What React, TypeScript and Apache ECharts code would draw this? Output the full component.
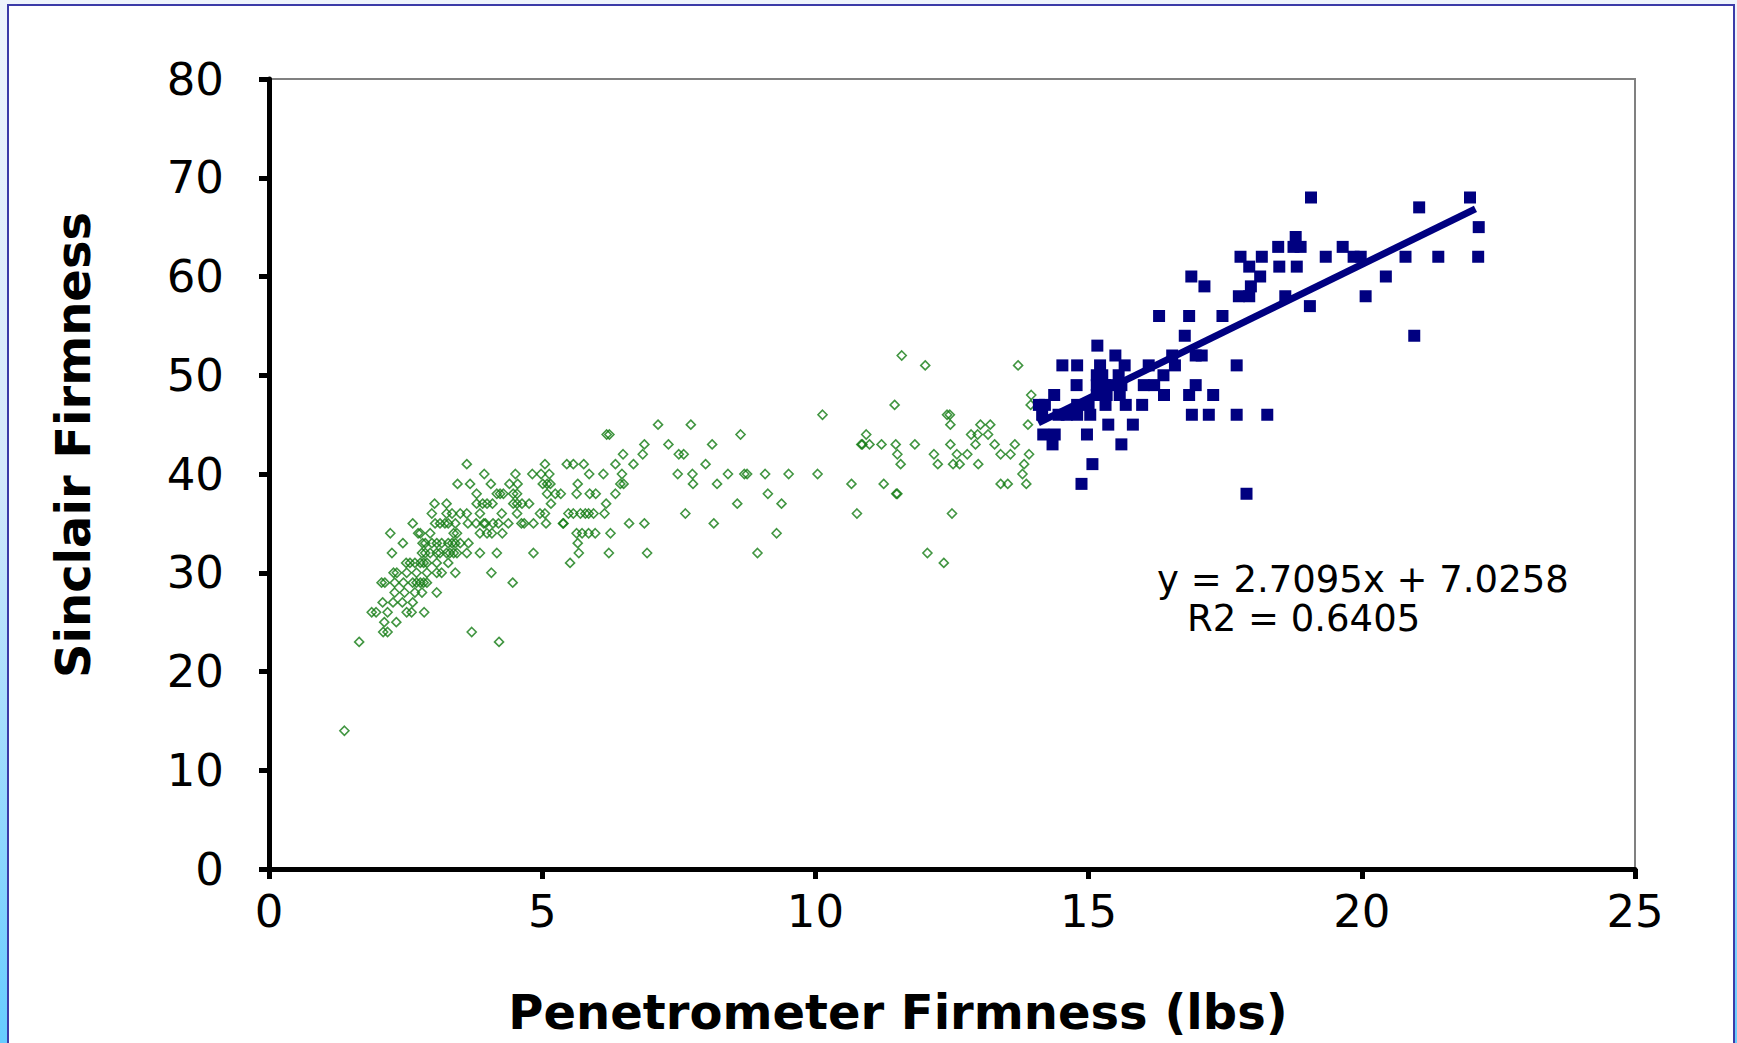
import React, { useEffect, useRef } from "react";
import * as echarts from "echarts";

// ---- Data ----
// Green (hollow diamonds): rows of [Sinclair value, penetrometer values...]
const greenRows: [number, number[]][] = [
  [52, [11.58]],
  [51, [12.01, 13.71]],
  [48, [13.95]],
  [47, [11.45, 13.94]],
  [46, [10.13, 12.41, 12.46]],
  [45, [7.12, 7.72, 12.47, 13.02, 13.2, 13.89]],
  [44, [6.18, 6.23, 8.63, 10.93, 12.85, 12.97, 13.16]],
  [43, [6.87, 7.31, 8.11, 10.84, 10.86, 10.99, 11.21, 11.47, 11.82, 12.47, 12.93, 13.28, 13.65]],
  [42, [6.48, 6.84, 7.5, 7.59, 11.5, 12.17, 12.59, 12.78, 13.39, 13.57, 13.91]],
  [41, [3.62, 5.05, 5.45, 5.57, 5.76, 6.34, 6.67, 7.99, 11.56, 12.24, 12.52, 12.64, 12.98, 13.82]],
  [40, [3.94, 4.51, 4.82, 4.98, 5.13, 5.86, 6.12, 6.46, 7.48, 7.75, 8.4, 8.7, 8.75, 9.08, 9.51, 10.04, 13.79]],
  [39, [3.45, 3.68, 4.06, 4.4, 4.55, 5.01, 5.09, 5.15, 5.65, 6.43, 6.49, 7.76, 8.2, 10.66, 11.25, 13.39, 13.52, 13.86]],
  [38, [3.8, 4.17, 4.23, 4.29, 4.47, 4.54, 5.09, 5.24, 5.34, 5.63, 5.87, 5.98, 6.34, 9.13, 11.48, 11.5]],
  [37, [3.03, 3.25, 3.8, 3.91, 3.99, 4.09, 4.47, 4.54, 4.63, 4.76, 5.16, 6.17, 8.57, 9.38]],
  [36, [2.98, 3.25, 3.35, 3.5, 3.62, 3.86, 4.26, 4.54, 4.96, 5.05, 5.48, 5.57, 5.7, 5.79, 5.85, 5.94, 6.14, 7.62, 10.76, 12.5]],
  [35, [2.63, 3.04, 3.13, 3.22, 3.28, 3.41, 3.64, 3.79, 3.93, 3.96, 4.1, 4.2, 4.38, 4.62, 4.67, 4.84, 5.07, 5.38, 5.39, 6.59, 6.87, 8.14]],
  [34, [2.22, 2.73, 2.77, 2.95, 3.38, 3.44, 3.86, 3.99, 4.08, 4.27, 5.63, 5.73, 5.85, 5.97, 6.25, 9.29]],
  [33, [2.45, 2.81, 2.86, 2.98, 3.07, 3.16, 3.28, 3.35, 3.41, 3.5, 3.65, 5.65]],
  [32, [2.25, 2.8, 2.86, 2.95, 3.07, 3.13, 3.25, 3.31, 3.38, 3.44, 3.62, 3.86, 4.17, 4.84, 5.67, 6.22, 6.92, 8.94, 12.05]],
  [31, [2.51, 2.58, 2.67, 2.77, 2.83, 2.89, 3.07, 3.28, 5.51, 12.35]],
  [30, [2.28, 2.34, 2.52, 2.7, 2.89, 3.07, 3.16, 3.41, 4.07]],
  [29, [2.06, 2.12, 2.3, 2.46, 2.63, 2.7, 2.77, 2.83, 2.89, 4.46]],
  [28, [2.3, 2.48, 2.67, 2.8, 3.07]],
  [27, [2.08, 2.27, 2.44, 2.63]],
  [26, [1.88, 1.96, 2.17, 2.52, 2.61, 2.84]],
  [25, [2.11, 2.33]],
  [24, [2.09, 2.17, 3.71]],
  [23, [1.65, 4.21]],
  [14, [1.38]],
];

// Blue (filled squares): [penetrometer, sinclair]
const bluePoints: [number, number][] = [
  [19.07, 68], [21.98, 68], [21.05, 67], [22.14, 65], [18.79, 64],
  [18.47, 63], [18.75, 63], [18.88, 63], [19.65, 63],
  [17.78, 62], [18.17, 62], [19.34, 62], [19.85, 62], [19.98, 62], [20.8, 62], [21.4, 62], [22.13, 62],
  [17.94, 61], [18.49, 61], [18.81, 61],
  [16.88, 60], [18.14, 60], [20.44, 60],
  [17.12, 59], [17.97, 59],
  [17.75, 58], [17.94, 58], [18.6, 58], [20.07, 58],
  [19.05, 57],
  [16.29, 56], [16.84, 56], [17.45, 56],
  [16.76, 54], [20.96, 54],
  [15.16, 53],
  [15.49, 52], [16.53, 52], [16.96, 52], [17.07, 52],
  [14.52, 51], [14.79, 51], [15.21, 51], [15.66, 51], [16.1, 51], [16.58, 51], [17.71, 51],
  [15.15, 50], [15.25, 50], [15.55, 50], [16.37, 50],
  [14.78, 49], [15.15, 49], [15.3, 49], [15.46, 49], [15.6, 49], [16.01, 49], [16.2, 49], [16.96, 49],
  [14.37, 48], [15.15, 48], [15.33, 48], [15.57, 48], [16.38, 48], [16.84, 48], [17.28, 48],
  [14.09, 47], [14.2, 47], [14.79, 47], [15.0, 47], [15.31, 47], [15.68, 47], [15.98, 47],
  [14.15, 46], [14.45, 46], [14.6, 46], [14.79, 46], [15.03, 46], [16.89, 46], [17.2, 46], [17.71, 46], [18.27, 46],
  [15.36, 45], [15.81, 45],
  [14.17, 44], [14.38, 44], [14.97, 44],
  [14.34, 43], [15.6, 43],
  [15.07, 41],
  [14.87, 39],
  [17.89, 38],
];

// Trend line (from the displayed equation) and its x extent
const trendSlope = 2.7095;
const trendIntercept = 7.0258;
const trendXRange = [14.08, 22.08];

const xTicks = { min: 0, max: 25, interval: 5 };
const yTicks = { min: 0, max: 80, interval: 10 };

const equationLines = ["y = 2.7095x + 7.0258", "R2 = 0.6405"];
const xTitle = "Penetrometer Firmness (lbs)";
const yTitle = "Sinclair Firmness";

export default function App() {
  const ref = useRef<HTMLDivElement>(null);

  useEffect(() => {
    if (!ref.current) return;
    const chart = echarts.init(ref.current, undefined, { renderer: "svg" });

    const greenPoints = greenRows.flatMap(([y, xs]) => xs.map((x) => [x, y]));
    const trendPoints = trendXRange.map((x) => [x, trendSlope * x + trendIntercept]);

    const axisCommon = {
      type: "value" as const,
      axisLine: { show: true, onZero: false, lineStyle: { color: "#000", width: 5 } },
      axisTick: { show: true, length: 10, lineStyle: { color: "#000", width: 5 } },
      splitLine: { show: false },
    };
    const labelFont = { fontSize: 45, fontFamily: "DejaVu Sans", color: "#000" };

    chart.setOption({
      animation: false,
      grid: {
        left: 269,
        top: 79,
        width: 1366,
        height: 790,
        show: true,
        borderColor: "#808080",
        borderWidth: 2,
        backgroundColor: "transparent",
      },
      xAxis: {
        ...axisCommon,
        ...xTicks,
        axisLabel: { ...labelFont, margin: 20 },
      },
      yAxis: {
        ...axisCommon,
        ...yTicks,
        axisLabel: { ...labelFont, margin: 45 },
      },
      series: [
        {
          type: "scatter",
          data: greenPoints,
          symbol: "diamond",
          symbolSize: 9,
          itemStyle: { color: "transparent", borderColor: "#127a12", borderWidth: 1.6 },
          z: 2,
        },
        {
          type: "scatter",
          data: bluePoints,
          symbol: "rect",
          symbolSize: 12,
          itemStyle: { color: "#000080", opacity: 1 },
          z: 3,
        },
        {
          type: "line",
          data: trendPoints,
          symbol: "none",
          lineStyle: { color: "#000080", width: 7 },
          z: 4,
        },
      ],
      graphic: [
        {
          type: "text",
          x: 898,
          y: 1012,
          style: {
            text: xTitle,
            fontFamily: "DejaVu Sans",
            fontWeight: "bold",
            fontSize: 48,
            fill: "#000",
            align: "center",
            verticalAlign: "middle",
          },
        },
        {
          type: "text",
          x: 73,
          y: 445,
          rotation: Math.PI / 2,
          style: {
            text: yTitle,
            fontFamily: "DejaVu Sans",
            fontWeight: "bold",
            fontSize: 48,
            fill: "#000",
            align: "center",
            verticalAlign: "middle",
          },
        },
        {
          type: "text",
          x: 1157,
          y: 579,
          style: {
            text: equationLines[0],
            fontFamily: "DejaVu Sans",
            fontSize: 37,
            fill: "#000",
            align: "left",
            verticalAlign: "middle",
          },
        },
        {
          type: "text",
          x: 1187,
          y: 618,
          style: {
            text: equationLines[1],
            fontFamily: "DejaVu Sans",
            fontSize: 37,
            fill: "#000",
            align: "left",
            verticalAlign: "middle",
          },
        },
      ],
    });

    return () => chart.dispose();
  }, []);

  return (
    <div
      style={{
        position: "fixed",
        left: 0,
        top: 0,
        width: 1737,
        height: 1043,
        overflow: "hidden",
        background: "linear-gradient(to bottom, #eef4fc 0%, #d4e9fb 45%, #8fd7fe 80%, #66ccff 100%)",
      }}
    >
      <div
        style={{
          position: "absolute",
          left: 7,
          top: 4,
          width: 1728,
          height: 1100,
          boxSizing: "border-box",
          border: "2px solid #3b3ba8",
          background: "#fff",
        }}
      />
      <div ref={ref} style={{ position: "absolute", left: 0, top: 0, width: 1737, height: 1043 }} />
    </div>
  );
}
